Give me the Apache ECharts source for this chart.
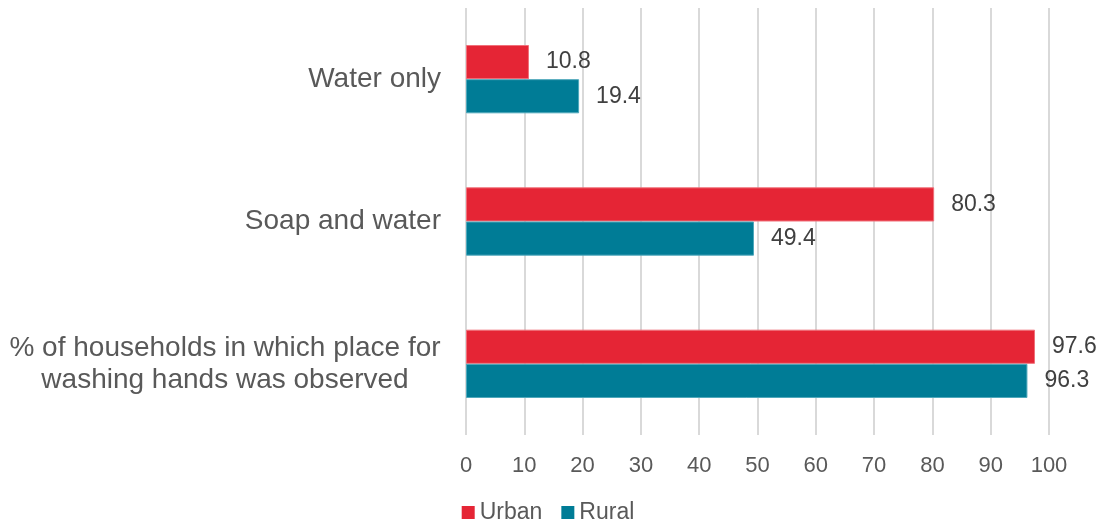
<!DOCTYPE html>
<html>
<head>
<meta charset="utf-8">
<script src="https://cdn.jsdelivr.net/npm/echarts@6/dist/echarts.min.js"></script>
<style>
  html, body { margin: 0; padding: 0; background: #fff; }
  #chart { width: 1096px; height: 529px; }
</style>
</head>
<body>
<div id="chart"></div>
<script>
// categories bottom -> top
var categories = ['% of households in which place for\nwashing hands was observed', 'Soap and water', 'Water only'];
var urban = [97.6, 80.3, 10.8];
var rural = [96.3, 49.4, 19.4];

var font = 'Arial, "Liberation Sans", sans-serif';

var option = {
    animation: false,
    backgroundColor: '#fff',
    grid: {left: 466, right: 47, top: 8, bottom: 94},
    legend: {
        data: ['Urban', 'Rural'],
        bottom: 0,
        left: 'center',
        icon: 'rect',
        itemWidth: 13,
        itemHeight: 13,
        itemGap: 19,
        itemStyle: {borderWidth: 0},
        textStyle: {fontFamily: font, fontSize: 23, color: '#595959'}
    },
    xAxis: {
        type: 'value',
        min: 0,
        max: 100,
        interval: 10,
        axisLine: {show: false},
        axisTick: {show: false},
        splitLine: {lineStyle: {color: '#d9d9d9', width: 2}},
        axisLabel: {fontFamily: font, fontSize: 22, color: '#595959', margin: 20}
    },
    yAxis: {
        type: 'category',
        data: categories,
        axisLine: {show: false},
        axisTick: {show: false},
        axisLabel: {
            fontFamily: font,
            fontSize: 28,
            color: '#595959',
            margin: 25,
            lineHeight: 32,
            formatter: function (v) {
                if (v.indexOf('\n') >= 0) {
                    return v.split('\n').map(function (s) { return '{c|' + s + '}'; }).join('\n');
                }
                return v;
            },
            rich: {
                c: {width: 432, align: 'center', fontFamily: font, fontSize: 28, color: '#595959', lineHeight: 32}
            }
        }
    },
    series: [{
        name: 'Urban',
        type: 'bar',
        data: urban,
        barGap: '0%',
        barCategoryGap: '52%',
        itemStyle: {color: '#e52535', borderColor: '#f0707a', borderWidth: 1},
        label: {show: true, position: 'right', distance: 17, fontFamily: font, fontSize: 23, color: '#404040'}
    }, {
        name: 'Rural',
        type: 'bar',
        data: rural,
        itemStyle: {color: '#007c96', borderColor: '#4fa8bb', borderWidth: 1},
        label: {show: true, position: 'right', distance: 17, fontFamily: font, fontSize: 23, color: '#404040'}
    }]
};

var chart = echarts.init(document.getElementById('chart'));
chart.setOption(option);
window.onresize = function () { chart.resize(); };
</script>
</body>
</html>
